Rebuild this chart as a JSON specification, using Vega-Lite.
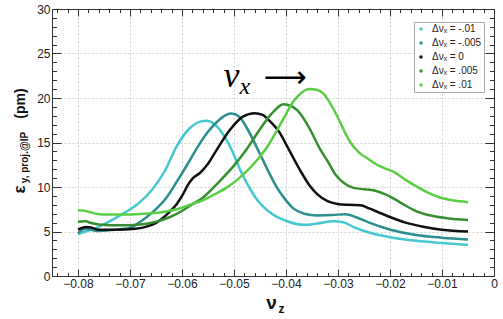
{
  "$schema": "https://vega.github.io/schema/vega-lite/v6.json",
  "autosize": {"type": "none"},
  "padding": {"left": 52, "top": 9, "right": 9, "bottom": 43},
  "width": 442,
  "height": 267,
  "background": "white",
  "config": {
    "view": {"stroke": null},
    "axis": {
      "domainColor": "#333333",
      "tickColor": "#333333",
      "labelFont": "Liberation Sans",
      "labelFontSize": 12,
      "labelColor": "#222222",
      "gridColor": "#d0d0d0",
      "gridDash": [2, 2],
      "titleFont": "Liberation Sans",
      "titleFontWeight": "bold",
      "titleColor": "#111111"
    }
  },
  "datasets": {
    "curves": [
      {"x": -0.080, "y": 4.7, "dnu": "-.01"}, {"x": -0.0785, "y": 5.0, "dnu": "-.01"}, {"x": -0.0765, "y": 5.4, "dnu": "-.01"}, {"x": -0.0734, "y": 6.3, "dnu": "-.01"}, {"x": -0.0705, "y": 7.3, "dnu": "-.01"}, {"x": -0.0685, "y": 8.1, "dnu": "-.01"}, {"x": -0.0656, "y": 9.8, "dnu": "-.01"}, {"x": -0.0633, "y": 11.8, "dnu": "-.01"}, {"x": -0.0610, "y": 14.6, "dnu": "-.01"}, {"x": -0.0585, "y": 16.6, "dnu": "-.01"}, {"x": -0.0565, "y": 17.35, "dnu": "-.01"}, {"x": -0.0552, "y": 17.45, "dnu": "-.01"}, {"x": -0.0533, "y": 16.8, "dnu": "-.01"}, {"x": -0.0508, "y": 14.6, "dnu": "-.01"}, {"x": -0.0483, "y": 11.3, "dnu": "-.01"}, {"x": -0.0456, "y": 8.6, "dnu": "-.01"}, {"x": -0.0425, "y": 6.9, "dnu": "-.01"}, {"x": -0.0395, "y": 6.1, "dnu": "-.01"}, {"x": -0.0367, "y": 5.75, "dnu": "-.01"}, {"x": -0.0340, "y": 5.9, "dnu": "-.01"}, {"x": -0.0310, "y": 6.15, "dnu": "-.01"}, {"x": -0.0290, "y": 6.05, "dnu": "-.01"}, {"x": -0.0270, "y": 5.5, "dnu": "-.01"}, {"x": -0.0235, "y": 4.8, "dnu": "-.01"}, {"x": -0.0199, "y": 4.35, "dnu": "-.01"}, {"x": -0.0150, "y": 3.95, "dnu": "-.01"}, {"x": -0.0100, "y": 3.7, "dnu": "-.01"}, {"x": -0.0050, "y": 3.5, "dnu": "-.01"},

      {"x": -0.080, "y": 4.8, "dnu": "-.005"}, {"x": -0.0785, "y": 5.3, "dnu": "-.005"}, {"x": -0.0775, "y": 5.2, "dnu": "-.005"}, {"x": -0.0764, "y": 5.05, "dnu": "-.005"}, {"x": -0.0730, "y": 5.2, "dnu": "-.005"}, {"x": -0.0701, "y": 5.4, "dnu": "-.005"}, {"x": -0.0680, "y": 6.1, "dnu": "-.005"}, {"x": -0.0656, "y": 7.2, "dnu": "-.005"}, {"x": -0.0630, "y": 8.8, "dnu": "-.005"}, {"x": -0.0610, "y": 10.6, "dnu": "-.005"}, {"x": -0.0590, "y": 12.5, "dnu": "-.005"}, {"x": -0.0571, "y": 14.4, "dnu": "-.005"}, {"x": -0.0550, "y": 16.2, "dnu": "-.005"}, {"x": -0.0533, "y": 17.3, "dnu": "-.005"}, {"x": -0.0515, "y": 18.1, "dnu": "-.005"}, {"x": -0.0505, "y": 18.25, "dnu": "-.005"}, {"x": -0.0490, "y": 17.9, "dnu": "-.005"}, {"x": -0.0475, "y": 16.6, "dnu": "-.005"}, {"x": -0.0450, "y": 13.7, "dnu": "-.005"}, {"x": -0.0430, "y": 11.3, "dnu": "-.005"}, {"x": -0.0417, "y": 9.9, "dnu": "-.005"}, {"x": -0.0400, "y": 8.5, "dnu": "-.005"}, {"x": -0.0386, "y": 7.6, "dnu": "-.005"}, {"x": -0.0365, "y": 7.0, "dnu": "-.005"}, {"x": -0.0340, "y": 6.8, "dnu": "-.005"}, {"x": -0.0310, "y": 6.85, "dnu": "-.005"}, {"x": -0.0285, "y": 6.95, "dnu": "-.005"}, {"x": -0.0265, "y": 6.6, "dnu": "-.005"}, {"x": -0.0240, "y": 6.0, "dnu": "-.005"}, {"x": -0.0199, "y": 5.2, "dnu": "-.005"}, {"x": -0.0150, "y": 4.6, "dnu": "-.005"}, {"x": -0.0100, "y": 4.3, "dnu": "-.005"}, {"x": -0.0050, "y": 4.1, "dnu": "-.005"},

      {"x": -0.080, "y": 5.2, "dnu": "0"}, {"x": -0.0785, "y": 5.5, "dnu": "0"}, {"x": -0.0775, "y": 5.45, "dnu": "0"}, {"x": -0.0760, "y": 5.2, "dnu": "0"}, {"x": -0.0730, "y": 5.2, "dnu": "0"}, {"x": -0.0690, "y": 5.3, "dnu": "0"}, {"x": -0.0665, "y": 5.6, "dnu": "0"}, {"x": -0.0649, "y": 6.0, "dnu": "0"}, {"x": -0.0635, "y": 6.6, "dnu": "0"}, {"x": -0.0624, "y": 7.2, "dnu": "0"}, {"x": -0.0610, "y": 8.1, "dnu": "0"}, {"x": -0.0598, "y": 9.2, "dnu": "0"}, {"x": -0.0588, "y": 10.3, "dnu": "0"}, {"x": -0.0579, "y": 11.0, "dnu": "0"}, {"x": -0.0565, "y": 11.6, "dnu": "0"}, {"x": -0.0550, "y": 12.6, "dnu": "0"}, {"x": -0.0533, "y": 14.2, "dnu": "0"}, {"x": -0.0508, "y": 16.4, "dnu": "0"}, {"x": -0.0483, "y": 17.9, "dnu": "0"}, {"x": -0.0460, "y": 18.3, "dnu": "0"}, {"x": -0.0445, "y": 18.1, "dnu": "0"}, {"x": -0.0431, "y": 17.4, "dnu": "0"}, {"x": -0.0411, "y": 16.0, "dnu": "0"}, {"x": -0.0398, "y": 14.6, "dnu": "0"}, {"x": -0.0373, "y": 11.9, "dnu": "0"}, {"x": -0.0355, "y": 10.2, "dnu": "0"}, {"x": -0.0340, "y": 9.2, "dnu": "0"}, {"x": -0.0320, "y": 8.4, "dnu": "0"}, {"x": -0.0301, "y": 8.1, "dnu": "0"}, {"x": -0.0280, "y": 8.0, "dnu": "0"}, {"x": -0.0257, "y": 7.95, "dnu": "0"}, {"x": -0.0240, "y": 7.6, "dnu": "0"}, {"x": -0.0220, "y": 7.1, "dnu": "0"}, {"x": -0.0199, "y": 6.6, "dnu": "0"}, {"x": -0.0170, "y": 6.0, "dnu": "0"}, {"x": -0.0141, "y": 5.6, "dnu": "0"}, {"x": -0.0100, "y": 5.2, "dnu": "0"}, {"x": -0.0050, "y": 5.0, "dnu": "0"},

      {"x": -0.080, "y": 6.1, "dnu": ".005"}, {"x": -0.0785, "y": 6.15, "dnu": ".005"}, {"x": -0.0775, "y": 5.95, "dnu": ".005"}, {"x": -0.0760, "y": 5.8, "dnu": ".005"}, {"x": -0.0720, "y": 5.7, "dnu": ".005"}, {"x": -0.0680, "y": 5.8, "dnu": ".005"}, {"x": -0.0650, "y": 6.1, "dnu": ".005"}, {"x": -0.0624, "y": 6.6, "dnu": ".005"}, {"x": -0.0600, "y": 7.3, "dnu": ".005"}, {"x": -0.0585, "y": 7.9, "dnu": ".005"}, {"x": -0.0560, "y": 8.8, "dnu": ".005"}, {"x": -0.0527, "y": 10.7, "dnu": ".005"}, {"x": -0.0500, "y": 12.4, "dnu": ".005"}, {"x": -0.0475, "y": 14.3, "dnu": ".005"}, {"x": -0.0450, "y": 16.5, "dnu": ".005"}, {"x": -0.0425, "y": 18.4, "dnu": ".005"}, {"x": -0.0405, "y": 19.3, "dnu": ".005"}, {"x": -0.0390, "y": 19.1, "dnu": ".005"}, {"x": -0.0378, "y": 18.6, "dnu": ".005"}, {"x": -0.0353, "y": 16.4, "dnu": ".005"}, {"x": -0.0335, "y": 14.3, "dnu": ".005"}, {"x": -0.0320, "y": 12.9, "dnu": ".005"}, {"x": -0.0305, "y": 11.4, "dnu": ".005"}, {"x": -0.0290, "y": 10.5, "dnu": ".005"}, {"x": -0.0270, "y": 9.9, "dnu": ".005"}, {"x": -0.0250, "y": 9.75, "dnu": ".005"}, {"x": -0.0230, "y": 9.6, "dnu": ".005"}, {"x": -0.0210, "y": 9.2, "dnu": ".005"}, {"x": -0.0190, "y": 8.6, "dnu": ".005"}, {"x": -0.0170, "y": 7.9, "dnu": ".005"}, {"x": -0.0150, "y": 7.3, "dnu": ".005"}, {"x": -0.0122, "y": 6.8, "dnu": ".005"}, {"x": -0.0090, "y": 6.5, "dnu": ".005"}, {"x": -0.0050, "y": 6.3, "dnu": ".005"},

      {"x": -0.080, "y": 7.4, "dnu": ".01"}, {"x": -0.0790, "y": 7.35, "dnu": ".01"}, {"x": -0.0778, "y": 7.2, "dnu": ".01"}, {"x": -0.0765, "y": 7.0, "dnu": ".01"}, {"x": -0.0740, "y": 6.9, "dnu": ".01"}, {"x": -0.0701, "y": 6.9, "dnu": ".01"}, {"x": -0.0670, "y": 7.0, "dnu": ".01"}, {"x": -0.0637, "y": 7.2, "dnu": ".01"}, {"x": -0.0610, "y": 7.5, "dnu": ".01"}, {"x": -0.0585, "y": 8.0, "dnu": ".01"}, {"x": -0.0560, "y": 8.5, "dnu": ".01"}, {"x": -0.0540, "y": 9.1, "dnu": ".01"}, {"x": -0.0515, "y": 9.9, "dnu": ".01"}, {"x": -0.0494, "y": 10.8, "dnu": ".01"}, {"x": -0.0475, "y": 11.8, "dnu": ".01"}, {"x": -0.0456, "y": 13.0, "dnu": ".01"}, {"x": -0.0435, "y": 14.6, "dnu": ".01"}, {"x": -0.0417, "y": 16.4, "dnu": ".01"}, {"x": -0.0400, "y": 18.2, "dnu": ".01"}, {"x": -0.0386, "y": 19.6, "dnu": ".01"}, {"x": -0.0370, "y": 20.6, "dnu": ".01"}, {"x": -0.0355, "y": 21.0, "dnu": ".01"}, {"x": -0.0340, "y": 20.9, "dnu": ".01"}, {"x": -0.0328, "y": 20.5, "dnu": ".01"}, {"x": -0.0315, "y": 19.4, "dnu": ".01"}, {"x": -0.0301, "y": 17.9, "dnu": ".01"}, {"x": -0.0288, "y": 16.3, "dnu": ".01"}, {"x": -0.0276, "y": 15.0, "dnu": ".01"}, {"x": -0.0260, "y": 13.9, "dnu": ".01"}, {"x": -0.0243, "y": 13.2, "dnu": ".01"}, {"x": -0.0225, "y": 12.5, "dnu": ".01"}, {"x": -0.0212, "y": 12.15, "dnu": ".01"}, {"x": -0.0193, "y": 11.7, "dnu": ".01"}, {"x": -0.0170, "y": 10.8, "dnu": ".01"}, {"x": -0.0147, "y": 10.0, "dnu": ".01"}, {"x": -0.0128, "y": 9.4, "dnu": ".01"}, {"x": -0.0108, "y": 8.9, "dnu": ".01"}, {"x": -0.0080, "y": 8.5, "dnu": ".01"}, {"x": -0.0050, "y": 8.3, "dnu": ".01"}
    ]
  },
  "resolve": {"axis": {"x": "independent", "y": "independent"}},
  "layer": [
    {
      "data": {"name": "curves"},
      "mark": {"type": "line", "strokeWidth": 2.5, "interpolate": "monotone"},
      "encoding": {
        "x": {
          "field": "x", "type": "quantitative",
          "scale": {"domain": [-0.085, 0], "nice": false, "zero": false},
          "axis": {
            "orient": "bottom",
            "values": [-0.084,-0.082,-0.08,-0.078,-0.076,-0.074,-0.072,-0.07,-0.068,-0.066,-0.064,-0.062,-0.06,-0.058,-0.056,-0.054,-0.052,-0.05,-0.048,-0.046,-0.044,-0.042,-0.04,-0.038,-0.036,-0.034,-0.032,-0.03,-0.028,-0.026,-0.024,-0.022,-0.02,-0.018,-0.016,-0.014,-0.012,-0.01,-0.008,-0.006,-0.004,-0.002,0],
            "labelExpr": "abs(datum.value*100 - round(datum.value*100)) < 0.01 ? (abs(datum.value) < 0.0001 ? '0' : format(datum.value, '.2f')) : ''",
            "tickSize": {"condition": {"test": "abs(datum.value*100 - round(datum.value*100)) < 0.01", "value": -7}, "value": -3.5},
            "grid": true,
            "gridOpacity": {"condition": {"test": "abs(datum.value*100 - round(datum.value*100)) < 0.01", "value": 1}, "value": 0},
            "labelPadding": 9,
            "labelFlush": false,
            "labelOverlap": false,
            "title": "ν",
            "titleFontSize": 19,
            "titleX": 219,
            "titleY": 32,
            "titleAlign": "center",
            "titleBaseline": "alphabetic",
            "titleAnchor": null
          }
        },
        "y": {
          "field": "y", "type": "quantitative",
          "scale": {"domain": [0, 30], "nice": false},
          "axis": {
            "orient": "left",
            "values": [0,1,2,3,4,5,6,7,8,9,10,11,12,13,14,15,16,17,18,19,20,21,22,23,24,25,26,27,28,29,30],
            "labelExpr": "datum.value % 5 == 0 ? datum.label : ''",
            "tickSize": {"condition": {"test": "datum.value % 5 == 0", "value": -9}, "value": -4.5},
            "grid": true,
            "gridOpacity": {"condition": {"test": "datum.value % 5 == 0", "value": 1}, "value": 0},
            "labelPadding": 11,
            "labelFlush": false,
            "labelOverlap": false,
            "title": "ε",
            "titleFontSize": 17,
            "titleX": -28,
            "titleY": 180,
            "titleAngle": -90,
            "titleAlign": "center",
            "titleBaseline": "alphabetic",
            "titleAnchor": null
          }
        },
        "color": {
          "field": "dnu", "type": "nominal",
          "scale": {
            "domain": ["-.01", "-.005", "0", ".005", ".01"],
            "range": ["#45c8cf", "#2b8f8f", "#111111", "#368f30", "#5acf45"]
          },
          "legend": {
            "orient": "none",
            "legendX": 362,
            "legendY": 13,
            "title": null,
            "labelExpr": "'Δνₓ = ' + datum.label",
            "labelFont": "Liberation Sans",
            "labelFontSize": 10,
            "labelColor": "#222222",
            "symbolType": "circle",
            "symbolSize": 4,
            "symbolStrokeWidth": 1.5,
            "rowPadding": 4,
            "padding": 2,
            "labelOffset": 6,
            "strokeColor": "#aaaaaa",
            "fillColor": "white"
          }
        }
      }
    },
    {
      "data": {"values": [{}]},
      "mark": {"type": "text", "font": "Liberation Serif", "fontStyle": "italic", "fontSize": 36, "align": "center", "baseline": "alphabetic", "color": "#000000"},
      "encoding": {
        "x": {
          "datum": -0.0505, "type": "quantitative",
          "scale": {"domain": [-0.085, 0], "nice": false, "zero": false},
          "axis": {
            "orient": "top",
            "values": [-0.084,-0.082,-0.08,-0.078,-0.076,-0.074,-0.072,-0.07,-0.068,-0.066,-0.064,-0.062,-0.06,-0.058,-0.056,-0.054,-0.052,-0.05,-0.048,-0.046,-0.044,-0.042,-0.04,-0.038,-0.036,-0.034,-0.032,-0.03,-0.028,-0.026,-0.024,-0.022,-0.02,-0.018,-0.016,-0.014,-0.012,-0.01,-0.008,-0.006,-0.004,-0.002,0],
            "labels": false,
            "grid": false,
            "title": null,
            "tickSize": {"condition": {"test": "abs(datum.value*100 - round(datum.value*100)) < 0.01", "value": -7}, "value": -3.5}
          }
        },
        "y": {
          "datum": 21.2, "type": "quantitative",
          "scale": {"domain": [0, 30], "nice": false},
          "axis": {
            "orient": "right",
            "values": [0,1,2,3,4,5,6,7,8,9,10,11,12,13,14,15,16,17,18,19,20,21,22,23,24,25,26,27,28,29,30],
            "labels": false,
            "grid": false,
            "title": null,
            "tickSize": {"condition": {"test": "datum.value % 5 == 0", "value": -9}, "value": -4.5}
          }
        },
        "text": {"value": "ν"}
      }
    },
    {
      "data": {"values": [{}]},
      "mark": {"type": "text", "font": "Liberation Serif", "fontStyle": "italic", "fontSize": 24, "align": "center", "baseline": "alphabetic", "color": "#000000"},
      "encoding": {
        "x": {
          "datum": -0.0479, "type": "quantitative",
          "scale": {"domain": [-0.085, 0], "nice": false, "zero": false},
          "axis": {
            "orient": "bottom",
            "domain": false, "ticks": false, "labels": false, "grid": false,
            "title": "z",
            "titleFontSize": 12,
            "titleX": 229,
            "titleY": 36,
            "titleAlign": "center",
            "titleBaseline": "alphabetic",
            "titleAnchor": null
          }
        },
        "y": {
          "datum": 20.4, "type": "quantitative",
          "scale": {"domain": [0, 30], "nice": false},
          "axis": {
            "orient": "left",
            "domain": false, "ticks": false, "labels": false, "grid": false,
            "title": "y, proj.@IP",
            "titleFontSize": 10,
            "titleX": -25,
            "titleY": 148,
            "titleAngle": -90,
            "titleAlign": "center",
            "titleBaseline": "alphabetic",
            "titleAnchor": null
          }
        },
        "text": {"value": "x"}
      }
    },
    {
      "data": {"values": [{}]},
      "mark": {"type": "text", "font": "DejaVu Sans", "fontSize": 30, "align": "center", "baseline": "middle", "color": "#000000"},
      "encoding": {
        "x": {
          "datum": -0.0402, "type": "quantitative",
          "scale": {"domain": [-0.085, 0], "nice": false, "zero": false},
          "axis": null
        },
        "y": {
          "datum": 22.2, "type": "quantitative",
          "scale": {"domain": [0, 30], "nice": false},
          "axis": {
            "orient": "left",
            "domain": false, "ticks": false, "labels": false, "grid": false,
            "title": "(pm)",
            "titleFontSize": 14,
            "titleX": -27.5,
            "titleY": 94,
            "titleAngle": -90,
            "titleAlign": "center",
            "titleBaseline": "alphabetic",
            "titleAnchor": null
          }
        },
        "text": {"value": "⟶"}
      }
    }
  ]
}
